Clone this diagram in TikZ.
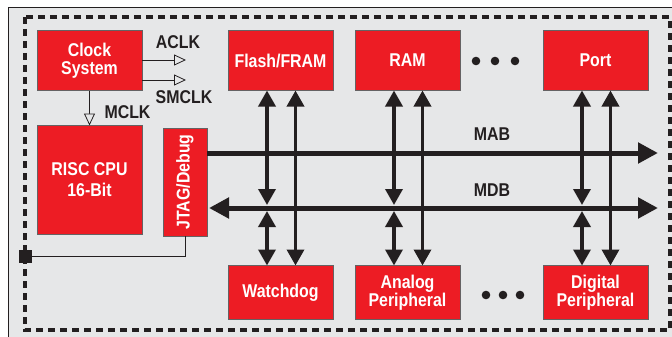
\documentclass[tikz,border=0pt]{standalone}
\usepackage{fontspec}
\setmainfont{Liberation Sans}[FakeStretch=0.86]
\usetikzlibrary{positioning, arrows.meta}

\definecolor{chipred}{HTML}{ED1C24}
\definecolor{panel}{HTML}{E6E7E8}
\definecolor{ink}{HTML}{231F20}

\tikzset{
    block/.style = {draw=ink!70, line width=0.6pt, fill=chipred, text=white,
        font=\bfseries\fontsize{18.5}{18}\selectfont, align=center,
        minimum width=105pt, minimum height=60pt, inner sep=0pt, outer sep=0pt},
    lbl/.style = {text=ink, font=\bfseries\fontsize{18.5}{18}\selectfont, inner sep=0pt},
    bus/.style = {draw=ink, line width=5pt},
    vbus/.style = {draw=ink, line width=3.5pt,
        {Triangle[length=16pt,width=17pt]}-{Triangle[length=16pt,width=17pt]}},
    clkline/.style = {draw=ink, line width=0.8pt,
        -{Triangle[open, length=12pt, width=11pt, fill=panel]}}
}

\begin{document}
\begin{tikzpicture}[x=1pt, y=-1pt]
    \useasboundingbox (0,0) rectangle (672,337);
    \fill[white] (0,0) rectangle (672,337);
    \draw[ink, line width=0.8pt, fill=panel] (8,7) rectangle (690,350);
    \draw[ink, line width=3.3pt, dash pattern=on 7pt off 5pt] (25,17) rectangle (670,330);

    % clock and cpu
    \node[block] (clk) at (89.5,60.5) {Clock\\System};
    \node[block, minimum height=109pt, font=\bfseries\fontsize{18.5}{21}\selectfont,
          below=35pt of clk] (cpu) {RISC CPU\\16-Bit};
    \node[block, minimum width=44pt, minimum height=108pt] (jtag) at (185,182)
          {\rotatebox{90}{JTAG/Debug}};

    % memories and peripherals
    \node[block] (flash) at (280.5,60.5) {Flash/FRAM};
    \node[block, right=22pt of flash] (ram) {RAM};
    \node[block] (port) at (595.5,60.5) {Port};
    \node[block, minimum height=54pt, below=175pt of flash] (wdt) {Watchdog};
    \node[block, minimum height=54pt, below=175pt of ram] (analog) {Analog\\Peripheral};
    \node[block, minimum height=54pt, below=175pt of port] (digital) {Digital\\Peripheral};

    \foreach \x in {476,495,515} \fill[ink] (\x,61) circle (4.3pt);
    \foreach \x in {486,503,520} \fill[ink] (\x,295) circle (4.3pt);

    % clocks
    \coordinate (aclk) at (186,60);
    \coordinate (smclk) at (186,80);
    \draw[clkline] (clk.east |- aclk) -- (aclk);
    \draw[clkline] (clk.east |- smclk) -- (smclk);
    \draw[clkline] (clk.south) -- (cpu.north);
    \node[lbl] (aclkl) at (178,42) {ACLK};
    \node[lbl] (smclkl) at (184,97.5) {SMCLK};
    \node[lbl] (mclkl) at (127.5,112) {MCLK};

    % buses
    \coordinate (mab) at (658,153);
    \coordinate (mdb) at (658,208);
    \draw[bus, -{Triangle[length=20pt,width=20pt]}] (jtag.east |- mab) -- (mab);
    \draw[bus, {Triangle[length=20pt,width=20pt]}-{Triangle[length=20pt,width=20pt]},
          shorten <=2pt] (jtag.east |- mdb) -- (mdb);
    \node[lbl] (mabl) at (492,134) {MAB};
    \node[lbl] (mdbl) at (492,190) {MDB};

    \foreach \up/\dn in {flash/wdt, ram/analog, port/digital} {
        \draw[vbus, shorten >=3pt] ([xshift=-13.5pt]\up.south) -- ([xshift=-13.5pt]\up.south |- mdb);
        \draw[vbus, shorten <=3pt] ([xshift=-13.5pt]\up.south |- mdb) -- ([xshift=-13.5pt]\dn.north);
        \draw[vbus] ([xshift=15pt]\up.south) -- ([xshift=15pt]\dn.north);
    }

    % debug port
    \node[fill=ink, minimum size=13pt, inner sep=0pt] (jport) at (25.5,256.5) {};
    \draw[ink, line width=0.8pt] (jtag.south) |- (jport);
\end{tikzpicture}
\end{document}
